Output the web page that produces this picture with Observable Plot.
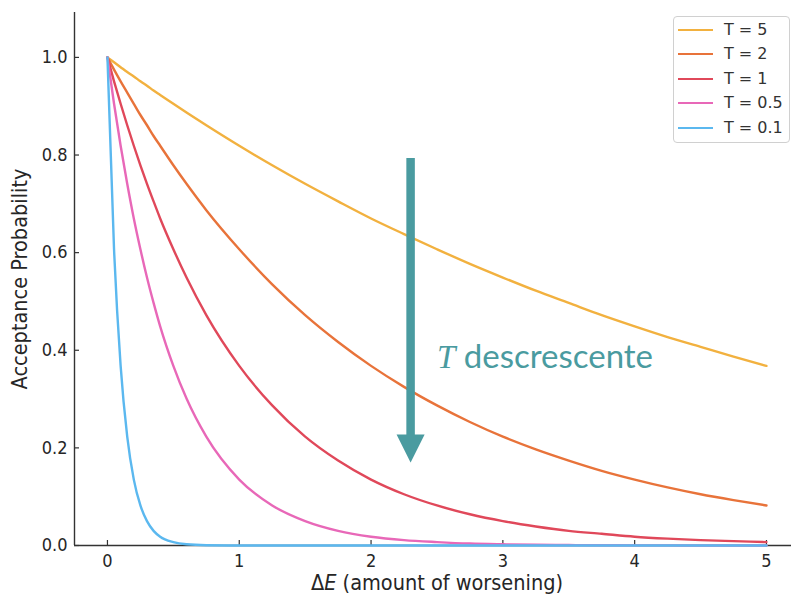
<!DOCTYPE html>
<html>
<head>
<meta charset="utf-8">
<script src="https://cdn.jsdelivr.net/npm/d3@7"></script>
<script src="https://cdn.jsdelivr.net/npm/@observablehq/plot@0.6"></script>
<style>
  html, body { margin: 0; padding: 0; background: #fff; }
  #wrap { position: relative; width: 791px; height: 597px; overflow: hidden; }
  #legend {
    position: absolute; left: 673px; top: 16px; width: 117px; height: 127px;
    border: 1px solid #d0d0d0; border-radius: 4px; background: rgba(255,255,255,0.85);
    font-family: "DejaVu Sans", sans-serif;
    font-size: 16px; color: #333; box-sizing: border-box;
  }
  .lg-line { position: absolute; left: 4px; width: 35px; height: 2px; }
  .lg-text { position: absolute; left: 50px; white-space: nowrap; line-height: 20px; }
</style>
</head>
<body>
<div id="wrap"><div id="legend"></div></div>
<script>
// ΔE sample positions
const dE = [0, 0.05, 0.1, 0.15, 0.2, 0.25, 0.3, 0.35, 0.4, 0.5, 0.6, 0.75, 1, 1.25, 1.5, 1.75, 2, 2.25, 2.5, 2.75, 3, 3.25, 3.5, 3.75, 4, 4.25, 4.5, 4.75, 5];
// acceptance probability per temperature
const pT5  = [1, .990, .980, .970, .961, .951, .942, .932, .923, .905, .887, .861, .819, .779, .741, .705, .670, .638, .607, .577, .549, .522, .497, .472, .449, .427, .407, .387, .368];
const pT2  = [1, .975, .951, .928, .905, .882, .861, .839, .819, .779, .741, .687, .607, .535, .472, .417, .368, .325, .287, .253, .223, .197, .174, .153, .135, .119, .105, .093, .082];
const pT1  = [1, .951, .905, .861, .819, .779, .741, .705, .670, .607, .549, .472, .368, .287, .223, .174, .135, .105, .082, .064, .050, .039, .030, .024, .018, .014, .011, .009, .007];
const pT05 = [1, .905, .819, .741, .670, .607, .549, .497, .449, .368, .301, .223, .135, .082, .050, .030, .018, .011, .007, .004, .0025, .0015, .0009, .0006, .0003, .0002, .0001, .0001, 0];
const pT01 = [1, .607, .368, .223, .135, .082, .050, .030, .018, .007, .0025, .0006, .00005, 0, 0, 0, 0, 0, 0, 0, 0, 0, 0, 0, 0, 0, 0, 0, 0];

const seriesNames = ["T = 5", "T = 2", "T = 1", "T = 0.5", "T = 0.1"];
const seriesValues = [pT5, pT2, pT1, pT05, pT01];
const seriesColors = ["#F2B13F", "#E8733A", "#E0485A", "#E868B8", "#5BB8EF"];

const xTicks = [0, 1, 2, 3, 4, 5];
const yTicks = [0, 0.2, 0.4, 0.6, 0.8, 1.0];

const xLabel = "ΔE (amount of worsening)";
const yLabel = "Acceptance Probability";
const annotation = "T descrescente";
const arrowX = 2.3, arrowTop = 0.793, arrowBase = 0.22, arrowHead = 0.2016;
const teal = "#4A9BA0";

const rows = [];
seriesNames.forEach((name, i) => {
  dE.forEach((x, j) => rows.push({series: name, x, y: seriesValues[i][j]}));
});

const W = 791, H = 597, mT = 12, mB = 52, mL = 74, mR = 0;
const frameW = W - mL - mR, frameH = H - mT - mB;
const FONT = "'DejaVu Sans Condensed', 'DejaVu Sans', sans-serif";

const downTriangle = {
  draw(ctx, size) {
    const s = Math.sqrt(size);
    ctx.moveTo(-s * 0.5, -s * 0.45);
    ctx.lineTo(s * 0.5, -s * 0.45);
    ctx.lineTo(0, s * 0.55);
    ctx.closePath();
  }
};

const chart = Plot.plot({
  width: W, height: H,
  marginTop: mT, marginBottom: mB, marginLeft: mL, marginRight: mR,
  style: {fontFamily: FONT, fontStretch: "condensed", fontSize: "18px", color: "#262626", background: "white"},
  x: {domain: [-0.25, 5.19]},
  y: {domain: [0, 1.092]},
  color: {domain: seriesNames, range: seriesColors},
  marks: [
    Plot.axisX({ticks: xTicks, tickSize: 0, tickPadding: 9, tickFormat: d3.format("d"), label: null, fontSize: 18}),
    Plot.axisY({ticks: yTicks, tickSize: 0, tickPadding: 7, tickFormat: d3.format(".1f"), label: null, fontSize: 18}),
    Plot.tickX(xTicks, {x: d => d, insetTop: frameH - 5, stroke: "#333", strokeWidth: 1.2}),
    Plot.tickY(yTicks, {y: d => d, insetRight: frameW - 5, stroke: "#333", strokeWidth: 1.2}),
    Plot.ruleX([-0.25], {stroke: "#333", strokeWidth: 1.4}),
    Plot.ruleY([0], {stroke: "#333", strokeWidth: 1.4}),
    Plot.text([yLabel], {frameAnchor: "left", textAnchor: "middle", dx: -54, rotate: -90, fontSize: 21.5, fill: "#262626"}),
    Plot.text([xLabel], {frameAnchor: "bottom", textAnchor: "middle", dx: 4, dy: 44, fontSize: 21.5, fill: "#262626"}),
    Plot.line(rows, {x: "x", y: "y", z: "series", stroke: "series", strokeWidth: 2.4, curve: "monotone-x"}),
    Plot.ruleX([arrowX], {y1: arrowTop, y2: arrowBase, stroke: teal, strokeWidth: 8.5}),
    Plot.dot([arrowX], {x: d => d, y: arrowHead, r: 15.8, symbol: downTriangle, fill: teal, stroke: "none"}),
    Plot.text([annotation], {x: 2.5, y: 0.386, textAnchor: "start", fontSize: 33, fill: teal, fontFamily: "Lato, sans-serif"})
  ]
});

// mixed styles inside labels
function restyle(svg, content, build) {
  svg.querySelectorAll("text").forEach(t => {
    if (t.textContent === content) {
      const target = t.querySelector("tspan") || t;
      target.textContent = "";
      build(target);
    }
  });
}
const NS = "http://www.w3.org/2000/svg";
function span(parent, txt, attrs) {
  const s = document.createElementNS(NS, "tspan");
  s.textContent = txt;
  for (const k in attrs) s.setAttribute(k, attrs[k]);
  parent.appendChild(s);
}
restyle(chart, xLabel, t => { span(t, "Δ", {}); span(t, "E", {"font-style": "italic"}); span(t, " (amount of worsening)", {}); });
restyle(chart, annotation, t => { span(t, "T", {"font-style": "italic", "font-family": "Liberation Serif, serif", "font-size": "33"}); span(t, " descrescente", {}); });

document.getElementById("wrap").prepend(chart);

// legend
const legend = document.getElementById("legend");
const ys = [13, 37, 62, 86, 111];
seriesNames.forEach((name, i) => {
  const line = document.createElement("div");
  line.className = "lg-line";
  line.style.top = (ys[i] - 1) + "px";
  line.style.background = seriesColors[i];
  legend.appendChild(line);
  const txt = document.createElement("div");
  txt.className = "lg-text";
  txt.style.top = (ys[i] - 10) + "px";
  txt.textContent = name;
  legend.appendChild(txt);
});
</script>
</body>
</html>
